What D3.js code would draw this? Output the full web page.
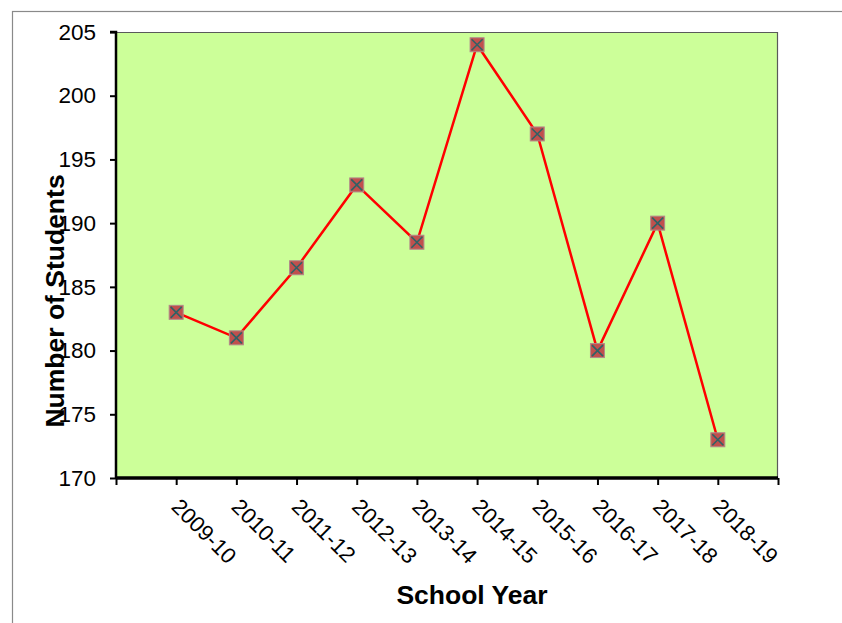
<!DOCTYPE html>
<html>
<head>
<meta charset="utf-8">
<script src="https://cdn.jsdelivr.net/npm/d3@7"></script>
<style>
html,body{margin:0;padding:0;background:#fff;}
svg{display:block;font-family:"Liberation Sans",Arial,sans-serif;}
</style>
</head>
<body>
<svg id="chart" width="842" height="623"></svg>
<script>
const years = ["2009-10","2010-11","2011-12","2012-13","2013-14","2014-15","2015-16","2016-17","2017-18","2018-19"];
const students = [183,181,186.5,193,188.5,204,197,180,190,173];
const yTicks = [170,175,180,185,190,195,200,205];

const svg = d3.select("#chart");
const pL = 116, pR = 778, pT = 32, pB = 478;

// outer frame
svg.append("rect").attr("x",12.5).attr("y",11.5).attr("width",900).attr("height",700)
  .attr("fill","none").attr("stroke","#8a8a8a").attr("stroke-width",1.2);

const x = d3.scaleLinear().domain([0, years.length + 1]).range([pL, pR]);
const y = d3.scaleLinear().domain([170, 205]).range([pB, pT]);

// plot area
svg.append("rect").attr("x",pL).attr("y",pT).attr("width",pR-pL).attr("height",pB-pT)
  .attr("fill","#ccff99");
svg.append("path").attr("d",`M${pL},${pT+0.5}H${pR-0.5}V${pB}`)
  .attr("fill","none").attr("stroke","#5a5a5a").attr("stroke-width",1.2);

// y axis
const yAxis = d3.axisLeft(y).tickValues(yTicks).tickSize(6).tickPadding(14).tickFormat(d3.format("d"));
const gy = svg.append("g").attr("transform",`translate(${pL},0)`).call(yAxis);
gy.select(".domain").attr("stroke","#000").attr("stroke-width",2.5).attr("d",`M-6,${pT}H0V${pB}`);
gy.selectAll(".tick line").attr("stroke","#000").attr("stroke-width",2);
gy.selectAll(".tick text").attr("font-size",22.5).attr("fill","#000")
  .attr("font-family","'Liberation Sans',Arial,sans-serif");

// x axis
const tickIdx = d3.range(0, years.length + 2);
const xAxis = d3.axisBottom(x).tickValues(tickIdx).tickSize(7).tickFormat("");
const gx = svg.append("g").attr("transform",`translate(0,${pB})`).call(xAxis);
gx.select(".domain").attr("stroke","#000").attr("stroke-width",3.5).attr("d",`M${pL},0H${pR}`);
gx.selectAll(".tick line").attr("stroke","#000").attr("stroke-width",2);

// x labels
svg.append("g").selectAll("text").data(years).join("text")
  .attr("transform",(d,i)=>`translate(${x(i+1)-6},${pB+30}) rotate(45)`)
  .attr("font-size",22).attr("fill","#000").text(d=>d);

// line
const line = d3.line().x((d,i)=>x(i+1)).y(d=>y(d));
svg.append("path").datum(students).attr("d",line).attr("fill","none")
  .attr("stroke","#ff0000").attr("stroke-width",2.5);

// markers
const m = svg.append("g").selectAll("g").data(students).join("g")
  .attr("transform",(d,i)=>`translate(${x(i+1)},${y(d)})`);
const s = 7;
m.append("rect").attr("x",-s).attr("y",-s).attr("width",2*s).attr("height",2*s)
  .attr("fill","#c0504d").attr("stroke","#b08a8a").attr("stroke-width",1);
m.append("path").attr("d",`M${-s+1.5},${-s+1.5}L${s-1.5},${s-1.5}M${s-1.5},${-s+1.5}L${-s+1.5},${s-1.5}`)
  .attr("stroke","#2f6266").attr("stroke-width",1.6);

// axis titles
svg.append("text").attr("x",472).attr("y",604).attr("text-anchor","middle")
  .attr("font-size",26.5).attr("font-weight","bold").attr("fill","#000").text("School Year");
svg.append("text").attr("transform",`translate(64,301) rotate(-90)`).attr("text-anchor","middle")
  .attr("font-size",26.5).attr("font-weight","bold").attr("fill","#000").text("Number of Students");
</script>
</body>
</html>
